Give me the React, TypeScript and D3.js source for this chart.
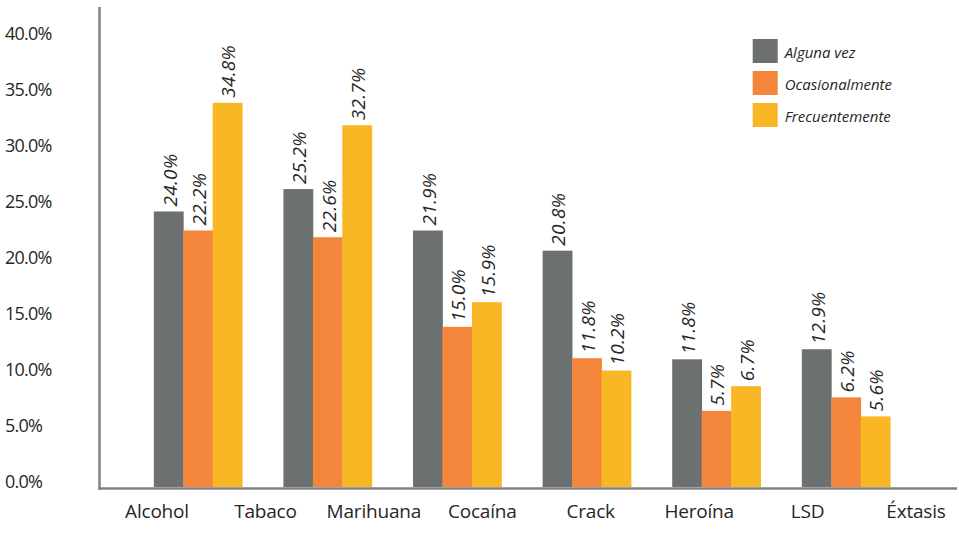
import React from "react";
import * as d3 from "d3";

const categories = ["Alcohol", "Tabaco", "Marihuana", "Cocaína", "Crack", "Heroína", "LSD", "Éxtasis"];
const groups = ["Alcohol", "Tabaco", "Marihuana", "Cocaína", "Crack", "Heroína"];
const series = ["Alguna vez", "Ocasionalmente", "Frecuentemente"];
const colors = ["#6d7070", "#f4863b", "#f9b625"];

// bar heights as drawn in the picture (%)
const algunaVez = [24.6, 26.6, 22.9, 21.1, 11.4, 12.3];
const ocasionalmente = [22.9, 22.3, 14.3, 11.5, 6.8, 8.0];
const frecuentemente = [34.3, 32.3, 16.5, 10.4, 9.0, 6.3];

// printed value labels
const algunaVezLabels = ["24.0%", "25.2%", "21.9%", "20.8%", "11.8%", "12.9%"];
const ocasionalmenteLabels = ["22.2%", "22.6%", "15.0%", "11.8%", "5.7%", "6.2%"];
const frecuentementeLabels = ["34.8%", "32.7%", "15.9%", "10.2%", "6.7%", "5.6%"];

const yTicks = [0, 5, 10, 15, 20, 25, 30, 35, 40];

const W = 959;
const H = 543;
const FONT = "'Open Sans', 'Noto Sans', sans-serif";

export default function App() {
  const values = [algunaVez, ocasionalmente, frecuentemente];
  const labels = [algunaVezLabels, ocasionalmenteLabels, frecuentementeLabels];

  const y = d3.scaleLinear().domain([0, 40]).range([487, 39]);
  const xGroup = d3.scaleBand<string>().domain(groups).range([133.2, 910.8]).padding(0);
  const xSub = d3
    .scaleBand<string>()
    .domain(series)
    .range([0, xGroup.bandwidth()])
    .paddingInner(0)
    .paddingOuter(0.7);
  const xCat = d3.scalePoint<string>().domain(categories).range([157, 916]);

  return (
    <svg
      width={W}
      height={H}
      style={{ position: "absolute", left: 0, top: 0, background: "#fff" }}
      fontFamily={FONT}
    >
      {/* y tick labels */}
      {yTicks.map((t) => (
        <text
          key={t}
          x={5}
          y={y(t) - 6}
          dominantBaseline="central"
          fontSize={18}
          letterSpacing={-0.8}
          fill="#262626"
        >
          {d3.format(".1f")(t) + "%"}
        </text>
      ))}

      {/* bars */}
      {groups.map((g, gi) => (
        <g key={g} transform={`translate(${xGroup(g)},0)`}>
          {series.map((s, si) => {
            const v = values[si][gi];
            const x0 = xSub(s)!;
            const bw = xSub.bandwidth();
            return (
              <g key={s}>
                <rect x={x0} y={y(v)} width={bw + 0.4} height={y(0) - y(v)} fill={colors[si]} />
                <text
                  transform={`translate(${x0 + bw / 2 + 1},${y(v) - 5}) rotate(-90)`}
                  dominantBaseline="central"
                  fontSize={19}
                  fontStyle="italic"
                  letterSpacing={0.3}
                  fill="#262626"
                >
                  {labels[si][gi]}
                </text>
              </g>
            );
          })}
        </g>
      ))}

      {/* axes */}
      <line x1={99.5} x2={99.5} y1={7} y2={490} stroke="#808282" strokeWidth={2.5} />
      <line x1={98.5} x2={957} y1={488.5} y2={488.5} stroke="#808282" strokeWidth={2.6} />

      {/* x labels */}
      {categories.map((c) => (
        <text key={c} x={xCat(c)} y={518} textAnchor="middle" fontSize={19} letterSpacing={-0.2} fill="#262626">
          {c}
        </text>
      ))}

      {/* legend */}
      {series.map((s, i) => (
        <g key={s} transform={`translate(752.7,${39 + i * 32})`}>
          <rect x={0} y={0} width={25} height={24} fill={colors[i]} />
          <text x={32} y={12.5} dominantBaseline="central" fontSize={15} fontStyle="italic" fill="#262626">
            {s}
          </text>
        </g>
      ))}
    </svg>
  );
}
